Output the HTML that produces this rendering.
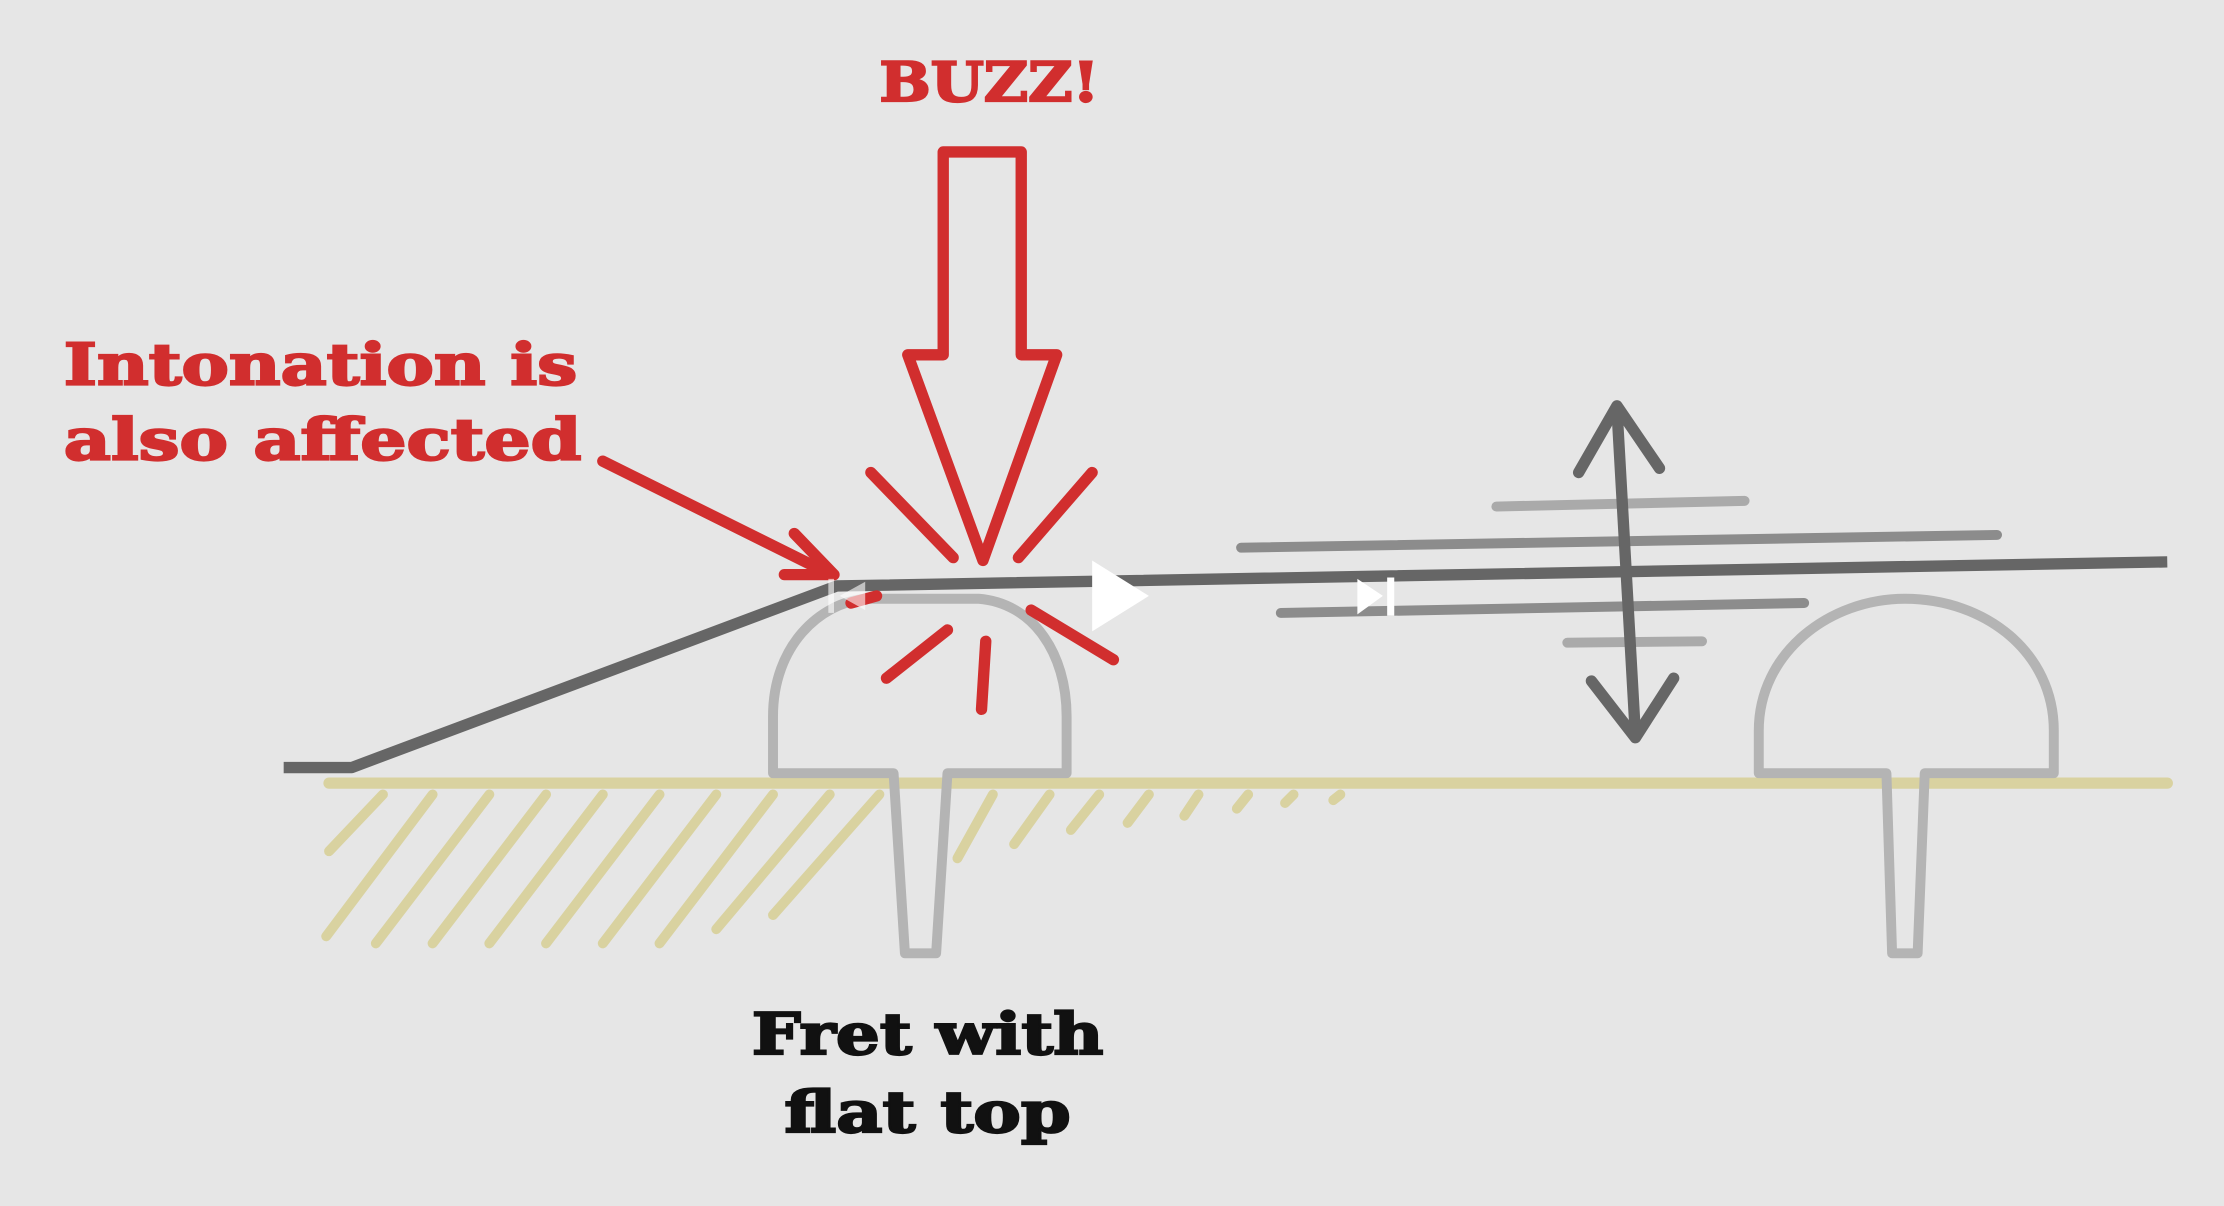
<!DOCTYPE html>
<html><head><meta charset="utf-8"><style>
html,body{margin:0;padding:0;background:#e6e6e6;}
svg{display:block;}
text{font-family:"DejaVu Serif","Liberation Serif",serif;font-weight:bold;}
</style></head><body>
<svg width="2224" height="1206" viewBox="0 0 1568 850" xmlns="http://www.w3.org/2000/svg">
<rect width="1568" height="850" fill="#e6e6e6"/>
<g stroke="#d9d2a0" stroke-width="7" stroke-linecap="round">
<line x1="232" y1="552" x2="1528" y2="552" stroke-width="8"/>
<line x1="270" y1="560" x2="232" y2="600"/>
<line x1="305" y1="560" x2="230" y2="660"/>
<line x1="345" y1="560" x2="265" y2="665"/>
<line x1="385" y1="560" x2="305" y2="665"/>
<line x1="425" y1="560" x2="345" y2="665"/>
<line x1="465" y1="560" x2="385" y2="665"/>
<line x1="505" y1="560" x2="425" y2="665"/>
<line x1="545" y1="560" x2="465" y2="665"/>
<line x1="585" y1="560" x2="505" y2="655"/>
<line x1="620" y1="560" x2="545" y2="645"/>
<line x1="700" y1="560" x2="675" y2="605"/>
<line x1="740" y1="560" x2="715" y2="595"/>
<line x1="775" y1="560" x2="755" y2="585"/>
<line x1="810" y1="560" x2="795" y2="580"/>
<line x1="845" y1="560" x2="835" y2="575"/>
<line x1="880" y1="560" x2="872" y2="570"/>
<line x1="912" y1="560" x2="906" y2="566"/>
<line x1="945" y1="560" x2="940" y2="564"/>
</g>
<g fill="none" stroke="#b4b4b4" stroke-width="7" stroke-linejoin="round">
<path d="M545,545 L545,505 C545,455 578,425 610,422 L690,422 C728,425 752,460 752,505 L752,545 L668,545 L660,672 L638,672 L630,545 Z"/>
<path d="M1240,545 L1240,515 C1240,460 1290,422 1343,422 C1400,422 1448,460 1448,515 L1448,545 L1357,545 L1352,672 L1334,672 L1330,545 Z"/>
</g>
<polyline points="200,541 248,541 590,413 1528,396" fill="none" stroke="#666" stroke-width="8" stroke-linejoin="round"/>
<g stroke="#8c8c8c" stroke-width="7" stroke-linecap="round">
<line x1="875" y1="386" x2="1408" y2="377"/>
<line x1="1055" y1="357" x2="1230" y2="353" stroke="#aaa"/>
<line x1="903" y1="432" x2="1272" y2="425"/>
<line x1="1105" y1="453" x2="1200" y2="452" stroke="#aaa"/>
</g>
<g stroke="#666" stroke-width="8" stroke-linecap="round" fill="none" stroke-linejoin="round">
<line x1="1140" y1="288" x2="1153" y2="518"/>
<polyline points="1113,333 1140,286 1170,330"/>
<polyline points="1122,480 1153,520 1180,478"/>
</g>
<g stroke="#d12e2e" stroke-width="8" fill="none" stroke-linejoin="round" stroke-linecap="round">
<path d="M665,107 L720,107 L720,250 L745,250 L693,395 L640,250 L665,250 Z"/>
<line x1="425" y1="325" x2="580" y2="402"/>
<polyline points="560,376 588,405 553,405"/>
<line x1="614" y1="333" x2="672" y2="393"/>
<line x1="770" y1="333" x2="718" y2="393"/>
<line x1="727" y1="430" x2="785" y2="465"/>
<line x1="668" y1="444" x2="625" y2="478"/>
<line x1="695" y1="452" x2="692" y2="500"/>
<line x1="600" y1="425" x2="618" y2="420"/>
</g>
<path d="M770,395 L810,420 L770,445 Z" fill="#fff"/>
<path d="M957,408 L975,420 L957,433 Z M978,407 L983,407 L983,434 L978,434 Z" fill="#fff"/>
<path d="M610,410 L592,420 L610,430 Z M584,408 L588,408 L588,432 L584,432 Z" fill="#fff" opacity="0.6"/>
<g fill="#d12e2e" stroke="#d12e2e" stroke-width="1.5" font-size="40">
<text x="620" y="71" textLength="155" lengthAdjust="spacingAndGlyphs" font-size="38">BUZZ!</text>
<text x="45" y="271" textLength="362" lengthAdjust="spacingAndGlyphs">Intonation is</text>
<text x="45" y="324" textLength="365" lengthAdjust="spacingAndGlyphs">also affected</text>
</g>
<g fill="#111" stroke="#111" stroke-width="1.5" font-size="40">
<text x="530" y="743" textLength="248" lengthAdjust="spacingAndGlyphs">Fret with</text>
<text x="553" y="798" textLength="202" lengthAdjust="spacingAndGlyphs">flat top</text>
</g>
</svg>
</body></html>
